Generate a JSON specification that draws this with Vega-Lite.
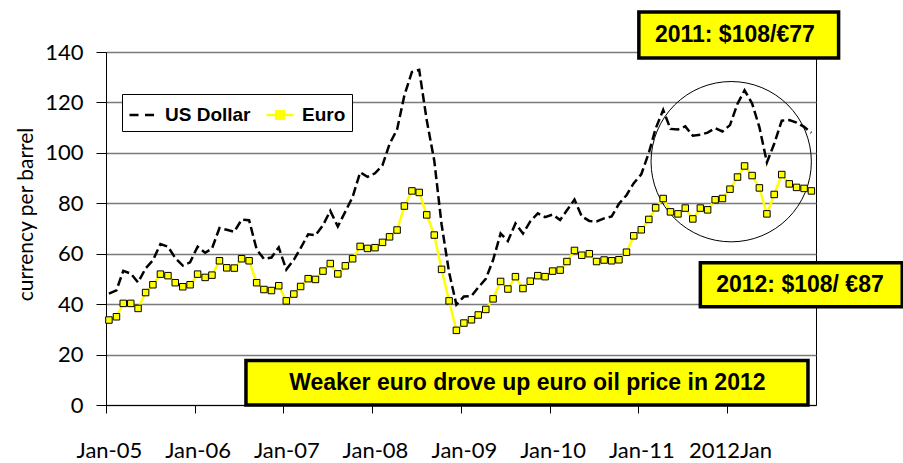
{
  "$schema": "https://vega.github.io/schema/vega-lite/v6.json",
  "autosize": {"type": "none"},
  "padding": {"left": 106, "top": 52, "right": 87, "bottom": 58},
  "width": 710,
  "height": 353,
  "background": "white",
  "config": {
    "view": {"stroke": "#000", "strokeWidth": 1},
    "axis": {"domainColor": "#000", "tickColor": "#000", "labelColor": "#000", "titleColor": "#000", "labelFont": "Lato", "titleFont": "Lato"}
  },
  "datasets": {
    "prices": [
      {"date":"2005-01-01","series":"US Dollar","price":44.2},{"date":"2005-02-01","series":"US Dollar","price":45.5},{"date":"2005-03-01","series":"US Dollar","price":53.2},{"date":"2005-04-01","series":"US Dollar","price":52.1},{"date":"2005-05-01","series":"US Dollar","price":48.6},{"date":"2005-06-01","series":"US Dollar","price":54.2},{"date":"2005-07-01","series":"US Dollar","price":57.4},{"date":"2005-08-01","series":"US Dollar","price":63.8},{"date":"2005-09-01","series":"US Dollar","price":62.8},{"date":"2005-10-01","series":"US Dollar","price":58.3},{"date":"2005-11-01","series":"US Dollar","price":55.3},{"date":"2005-12-01","series":"US Dollar","price":56.6},
      {"date":"2006-01-01","series":"US Dollar","price":62.8},{"date":"2006-02-01","series":"US Dollar","price":60.4},{"date":"2006-03-01","series":"US Dollar","price":62.0},{"date":"2006-04-01","series":"US Dollar","price":70.2},{"date":"2006-05-01","series":"US Dollar","price":69.5},{"date":"2006-06-01","series":"US Dollar","price":68.7},{"date":"2006-07-01","series":"US Dollar","price":73.5},{"date":"2006-08-01","series":"US Dollar","price":73.3},{"date":"2006-09-01","series":"US Dollar","price":61.7},{"date":"2006-10-01","series":"US Dollar","price":57.9},{"date":"2006-11-01","series":"US Dollar","price":58.5},{"date":"2006-12-01","series":"US Dollar","price":62.5},
      {"date":"2007-01-01","series":"US Dollar","price":53.7},{"date":"2007-02-01","series":"US Dollar","price":57.6},{"date":"2007-03-01","series":"US Dollar","price":62.2},{"date":"2007-04-01","series":"US Dollar","price":67.7},{"date":"2007-05-01","series":"US Dollar","price":67.3},{"date":"2007-06-01","series":"US Dollar","price":71.3},{"date":"2007-07-01","series":"US Dollar","price":77.0},{"date":"2007-08-01","series":"US Dollar","price":70.8},{"date":"2007-09-01","series":"US Dollar","price":76.7},{"date":"2007-10-01","series":"US Dollar","price":82.5},{"date":"2007-11-01","series":"US Dollar","price":92.3},{"date":"2007-12-01","series":"US Dollar","price":90.5},
      {"date":"2008-01-01","series":"US Dollar","price":91.9},{"date":"2008-02-01","series":"US Dollar","price":95.1},{"date":"2008-03-01","series":"US Dollar","price":103.5},{"date":"2008-04-01","series":"US Dollar","price":109.3},{"date":"2008-05-01","series":"US Dollar","price":122.8},{"date":"2008-06-01","series":"US Dollar","price":132.1},{"date":"2008-07-01","series":"US Dollar","price":132.9},{"date":"2008-08-01","series":"US Dollar","price":112.9},{"date":"2008-09-01","series":"US Dollar","price":96.9},{"date":"2008-10-01","series":"US Dollar","price":71.7},{"date":"2008-11-01","series":"US Dollar","price":52.6},{"date":"2008-12-01","series":"US Dollar","price":39.8},
      {"date":"2009-01-01","series":"US Dollar","price":43.0},{"date":"2009-02-01","series":"US Dollar","price":43.2},{"date":"2009-03-01","series":"US Dollar","price":46.6},{"date":"2009-04-01","series":"US Dollar","price":50.0},{"date":"2009-05-01","series":"US Dollar","price":57.5},{"date":"2009-06-01","series":"US Dollar","price":68.0},{"date":"2009-07-01","series":"US Dollar","price":65.0},{"date":"2009-08-01","series":"US Dollar","price":72.0},{"date":"2009-09-01","series":"US Dollar","price":68.0},{"date":"2009-10-01","series":"US Dollar","price":72.8},{"date":"2009-11-01","series":"US Dollar","price":76.0},{"date":"2009-12-01","series":"US Dollar","price":74.5},
      {"date":"2010-01-01","series":"US Dollar","price":75.5},{"date":"2010-02-01","series":"US Dollar","price":73.4},{"date":"2010-03-01","series":"US Dollar","price":77.2},{"date":"2010-04-01","series":"US Dollar","price":81.5},{"date":"2010-05-01","series":"US Dollar","price":74.8},{"date":"2010-06-01","series":"US Dollar","price":73.0},{"date":"2010-07-01","series":"US Dollar","price":72.8},{"date":"2010-08-01","series":"US Dollar","price":74.0},{"date":"2010-09-01","series":"US Dollar","price":74.8},{"date":"2010-10-01","series":"US Dollar","price":79.8},{"date":"2010-11-01","series":"US Dollar","price":83.2},{"date":"2010-12-01","series":"US Dollar","price":88.0},
      {"date":"2011-01-01","series":"US Dollar","price":91.5},{"date":"2011-02-01","series":"US Dollar","price":100.0},{"date":"2011-03-01","series":"US Dollar","price":109.6},{"date":"2011-04-01","series":"US Dollar","price":117.0},{"date":"2011-05-01","series":"US Dollar","price":109.5},{"date":"2011-06-01","series":"US Dollar","price":109.3},{"date":"2011-07-01","series":"US Dollar","price":110.5},{"date":"2011-08-01","series":"US Dollar","price":106.8},{"date":"2011-09-01","series":"US Dollar","price":107.2},{"date":"2011-10-01","series":"US Dollar","price":108.0},{"date":"2011-11-01","series":"US Dollar","price":109.8},{"date":"2011-12-01","series":"US Dollar","price":108.5},
      {"date":"2012-01-01","series":"US Dollar","price":111.0},{"date":"2012-02-01","series":"US Dollar","price":119.5},{"date":"2012-03-01","series":"US Dollar","price":124.8},{"date":"2012-04-01","series":"US Dollar","price":119.6},{"date":"2012-05-01","series":"US Dollar","price":110.2},{"date":"2012-06-01","series":"US Dollar","price":96.2},{"date":"2012-07-01","series":"US Dollar","price":103.6},{"date":"2012-08-01","series":"US Dollar","price":112.8},{"date":"2012-09-01","series":"US Dollar","price":113.0},{"date":"2012-10-01","series":"US Dollar","price":112.0},{"date":"2012-11-01","series":"US Dollar","price":110.3},{"date":"2012-12-01","series":"US Dollar","price":108.0},
      {"date":"2005-01-01","series":"Euro","price":33.7},{"date":"2005-02-01","series":"Euro","price":35.0},{"date":"2005-03-01","series":"Euro","price":40.3},{"date":"2005-04-01","series":"Euro","price":40.3},{"date":"2005-05-01","series":"Euro","price":38.3},{"date":"2005-06-01","series":"Euro","price":44.6},{"date":"2005-07-01","series":"Euro","price":47.7},{"date":"2005-08-01","series":"Euro","price":51.9},{"date":"2005-09-01","series":"Euro","price":51.3},{"date":"2005-10-01","series":"Euro","price":48.5},{"date":"2005-11-01","series":"Euro","price":46.9},{"date":"2005-12-01","series":"Euro","price":47.7},
      {"date":"2006-01-01","series":"Euro","price":51.9},{"date":"2006-02-01","series":"Euro","price":50.6},{"date":"2006-03-01","series":"Euro","price":51.5},{"date":"2006-04-01","series":"Euro","price":57.2},{"date":"2006-05-01","series":"Euro","price":54.4},{"date":"2006-06-01","series":"Euro","price":54.3},{"date":"2006-07-01","series":"Euro","price":58.0},{"date":"2006-08-01","series":"Euro","price":57.2},{"date":"2006-09-01","series":"Euro","price":48.5},{"date":"2006-10-01","series":"Euro","price":45.8},{"date":"2006-11-01","series":"Euro","price":45.4},{"date":"2006-12-01","series":"Euro","price":47.3},
      {"date":"2007-01-01","series":"Euro","price":41.3},{"date":"2007-02-01","series":"Euro","price":44.0},{"date":"2007-03-01","series":"Euro","price":47.0},{"date":"2007-04-01","series":"Euro","price":50.1},{"date":"2007-05-01","series":"Euro","price":49.8},{"date":"2007-06-01","series":"Euro","price":53.1},{"date":"2007-07-01","series":"Euro","price":56.1},{"date":"2007-08-01","series":"Euro","price":52.0},{"date":"2007-09-01","series":"Euro","price":55.2},{"date":"2007-10-01","series":"Euro","price":58.0},{"date":"2007-11-01","series":"Euro","price":62.9},{"date":"2007-12-01","series":"Euro","price":62.1},
      {"date":"2008-01-01","series":"Euro","price":62.4},{"date":"2008-02-01","series":"Euro","price":64.5},{"date":"2008-03-01","series":"Euro","price":66.7},{"date":"2008-04-01","series":"Euro","price":69.4},{"date":"2008-05-01","series":"Euro","price":78.9},{"date":"2008-06-01","series":"Euro","price":84.9},{"date":"2008-07-01","series":"Euro","price":84.3},{"date":"2008-08-01","series":"Euro","price":75.4},{"date":"2008-09-01","series":"Euro","price":67.4},{"date":"2008-10-01","series":"Euro","price":53.8},{"date":"2008-11-01","series":"Euro","price":41.3},{"date":"2008-12-01","series":"Euro","price":29.6},
      {"date":"2009-01-01","series":"Euro","price":32.5},{"date":"2009-02-01","series":"Euro","price":33.8},{"date":"2009-03-01","series":"Euro","price":35.7},{"date":"2009-04-01","series":"Euro","price":37.9},{"date":"2009-05-01","series":"Euro","price":42.1},{"date":"2009-06-01","series":"Euro","price":49.0},{"date":"2009-07-01","series":"Euro","price":46.0},{"date":"2009-08-01","series":"Euro","price":50.9},{"date":"2009-09-01","series":"Euro","price":46.2},{"date":"2009-10-01","series":"Euro","price":49.1},{"date":"2009-11-01","series":"Euro","price":51.3},{"date":"2009-12-01","series":"Euro","price":50.9},
      {"date":"2010-01-01","series":"Euro","price":53.1},{"date":"2010-02-01","series":"Euro","price":53.5},{"date":"2010-03-01","series":"Euro","price":56.9},{"date":"2010-04-01","series":"Euro","price":61.3},{"date":"2010-05-01","series":"Euro","price":59.4},{"date":"2010-06-01","series":"Euro","price":60.0},{"date":"2010-07-01","series":"Euro","price":56.9},{"date":"2010-08-01","series":"Euro","price":57.5},{"date":"2010-09-01","series":"Euro","price":57.2},{"date":"2010-10-01","series":"Euro","price":57.6},{"date":"2010-11-01","series":"Euro","price":60.6},{"date":"2010-12-01","series":"Euro","price":67.1},
      {"date":"2011-01-01","series":"Euro","price":69.5},{"date":"2011-02-01","series":"Euro","price":73.6},{"date":"2011-03-01","series":"Euro","price":78.2},{"date":"2011-04-01","series":"Euro","price":81.9},{"date":"2011-05-01","series":"Euro","price":76.6},{"date":"2011-06-01","series":"Euro","price":75.8},{"date":"2011-07-01","series":"Euro","price":78.1},{"date":"2011-08-01","series":"Euro","price":73.8},{"date":"2011-09-01","series":"Euro","price":78.1},{"date":"2011-10-01","series":"Euro","price":77.4},{"date":"2011-11-01","series":"Euro","price":81.4},{"date":"2011-12-01","series":"Euro","price":81.9},
      {"date":"2012-01-01","series":"Euro","price":85.6},{"date":"2012-02-01","series":"Euro","price":90.4},{"date":"2012-03-01","series":"Euro","price":94.8},{"date":"2012-04-01","series":"Euro","price":91.0},{"date":"2012-05-01","series":"Euro","price":86.1},{"date":"2012-06-01","series":"Euro","price":75.8},{"date":"2012-07-01","series":"Euro","price":83.5},{"date":"2012-08-01","series":"Euro","price":91.4},{"date":"2012-09-01","series":"Euro","price":87.7},{"date":"2012-10-01","series":"Euro","price":86.3},{"date":"2012-11-01","series":"Euro","price":85.9},{"date":"2012-12-01","series":"Euro","price":84.9}
    ],
    "notes": [
      {"x":"2006-07-19","x2":"2012-11-17","y":0,"y2":17.6,"tx":"2009-09-19","ty":8.8,"label":"Weaker euro drove up euro oil price in 2012"},
      {"x":"2010-12-22","x2":"2013-03-23","y":137.6,"y2":155.9,"tx":"2012-01-21","ty":146.6,"label":"2011: $108/€77"},
      {"x":"2011-09-01","x2":"2013-12-10","y":39.0,"y2":56.4,"tx":"2012-10-15","ty":47.6,"label":"2012: $108/ €87"}
    ],
    "ring": [{"date":"2012-01-06","price":96.5}]
  },
  "layer": [
    {
      "data": {"name": "ring"},
      "mark": {"type": "point", "shape": "circle", "size": 25700, "filled": false, "stroke": "#000", "strokeWidth": 1, "opacity": 1},
      "encoding": {
        "x": {"field": "date", "type": "temporal",
          "scale": {"type": "utc", "domain": [{"year":2004,"month":12,"date":20,"utc":true},{"year":2012,"month":12,"date":20,"utc":true}]},
          "axis": {
            "title": null, "grid": false, "tickSize": 8, "tickWidth": 1, "tickOffset": -3, "labelOffset": 3,
            "labelFontSize": 22, "labelPadding": 27,
            "values": [
              {"year":2005,"month":1,"date":1,"utc":true},{"year":2006,"month":1,"date":1,"utc":true},{"year":2007,"month":1,"date":1,"utc":true},{"year":2008,"month":1,"date":1,"utc":true},
              {"year":2009,"month":1,"date":1,"utc":true},{"year":2010,"month":1,"date":1,"utc":true},{"year":2011,"month":1,"date":1,"utc":true},{"year":2012,"month":1,"date":1,"utc":true}
            ],
            "labelExpr": "utcyear(datum.value) == 2012 ? '2012Jan' : utcFormat(datum.value, '%b-%y')"
          }
        },
        "y": {"field": "price", "type": "quantitative",
          "scale": {"domain": [0, 140], "nice": false, "zero": true},
          "axis": {
            "title": "currency per barrel", "titleFontSize": 21, "titleFontWeight": "normal",
            "titleX": -70, "titleY": 162,
            "values": [0, 20, 40, 60, 80, 100, 120, 140],
            "grid": true, "gridColor": "#7a7a7a", "gridWidth": 1.3,
            "tickSize": 10, "tickWidth": 1, "labelFontSize": 22, "labelPadding": 13
          }
        }
      }
    },
    {
      "data": {"name": "notes"},
      "mark": {"type": "rect", "fill": "#ffff00", "stroke": "#000", "strokeWidth": 3.5},
      "encoding": {
        "x": {"field": "x", "type": "temporal"},
        "x2": {"field": "x2"},
        "y": {"field": "y", "type": "quantitative"},
        "y2": {"field": "y2"}
      }
    },
    {
      "data": {"name": "notes"},
      "mark": {"type": "text", "font": "Liberation Sans", "fontWeight": "bold", "fontSize": 23, "align": "center", "baseline": "middle", "color": "#000"},
      "encoding": {
        "x": {"field": "tx", "type": "temporal"},
        "y": {"field": "ty", "type": "quantitative"},
        "text": {"field": "label"}
      }
    },
    {
      "data": {"name": "prices"},
      "mark": {"type": "line", "strokeWidth": 2.5},
      "encoding": {
        "x": {"field": "date", "type": "temporal"},
        "y": {"field": "price", "type": "quantitative"},
        "color": {"field": "series", "type": "nominal",
          "scale": {"domain": ["US Dollar", "Euro"], "range": ["#000000", "#ffff00"]},
          "legend": {
            "orient": "none", "legendX": 16, "legendY": 42, "direction": "horizontal", "title": null,
            "strokeColor": "#000", "fillColor": "#fff", "padding": 6,
            "labelFont": "Liberation Sans", "labelFontSize": 19, "labelFontWeight": "bold", "labelColor": "#000",
            "symbolSize": 729, "symbolStrokeWidth": 2.5, "labelOffset": 7, "columnPadding": 10,
            "symbolType": "M-1,0H1",
            "encode": {"symbols": {"update": {
              "shape": {"signal": "datum.value === 'Euro' ? 'M-1,0H-0.28M0.28,0H1M-0.28,-0.28H0.28V0.28H-0.28Z' : 'M-1,0H-0.15M0.15,0H1'"},
              "fill": {"signal": "datum.value === 'Euro' ? '#ffff00' : 'transparent'"},
              "stroke": {"signal": "datum.value === 'Euro' ? '#ffff00' : '#000000'"},
              "strokeDash": {"value": []}
            }}}
          }
        },
        "strokeDash": {"field": "series", "type": "nominal",
          "scale": {"domain": ["US Dollar", "Euro"], "range": [[9, 4], [1, 0]]},
          "legend": null
        }
      }
    },
    {
      "data": {"name": "prices"},
      "transform": [{"filter": "datum.series === 'Euro'"}],
      "mark": {"type": "point", "shape": "square", "filled": true, "fill": "#ffff00", "stroke": "#000", "strokeWidth": 1, "size": 42, "opacity": 1},
      "encoding": {
        "x": {"field": "date", "type": "temporal"},
        "y": {"field": "price", "type": "quantitative"}
      }
    }
  ]
}
